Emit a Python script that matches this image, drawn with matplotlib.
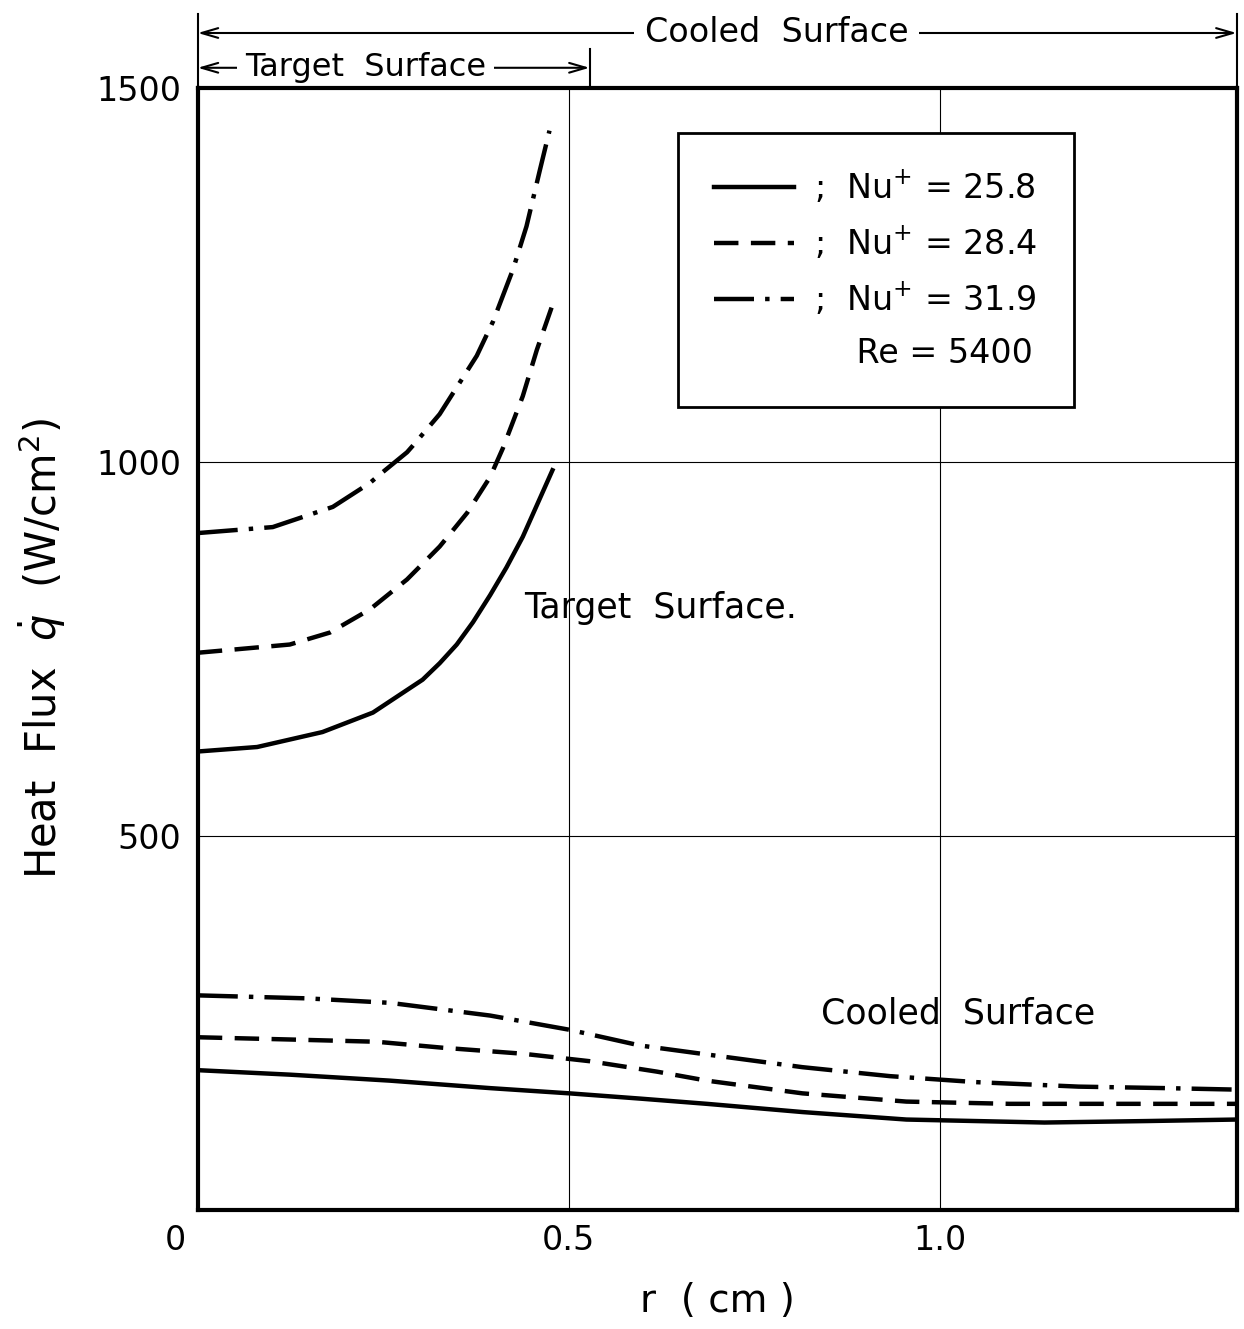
import numpy as np
import matplotlib.pyplot as plt
from matplotlib.lines import Line2D

# Target surface curves (r in cm, heat flux in W/cm2)
r_t_258 = [0.0, 0.08, 0.168, 0.236, 0.303, 0.326, 0.349, 0.371, 0.394,
           0.416, 0.438, 0.478]
q_t_258 = [613, 619, 639, 665, 709, 731, 756, 786, 822, 859, 900, 989]
r_t_284 = [0.0, 0.124, 0.178, 0.232, 0.282, 0.326, 0.363, 0.394, 0.411,
           0.438, 0.457, 0.477]
q_t_284 = [745, 756, 772, 803, 843, 887, 932, 980, 1018, 1088, 1150, 1207]
r_t_319 = [0.0, 0.101, 0.182, 0.232, 0.245, 0.282, 0.29, 0.326, 0.376,
           0.398, 0.425, 0.443, 0.461, 0.474]
q_t_319 = [905, 913, 940, 972, 983, 1013, 1022, 1064, 1142, 1188, 1258,
           1315, 1390, 1443]

# Cooled surface curves
r_c_258 = [0.0, 0.124, 0.259, 0.394, 0.501, 0.596, 0.686, 0.815, 0.955,
           1.141, 1.28, 1.4]
q_c_258 = [187, 181, 173, 163, 156, 149, 142, 131, 121, 117, 119, 121]
r_c_284 = [0.0, 0.124, 0.241, 0.33, 0.438, 0.528, 0.619, 0.686, 0.815,
           0.955, 1.094, 1.235, 1.4]
q_c_284 = [231, 228, 225, 217, 209, 199, 185, 173, 156, 145, 142, 142, 142]
r_c_319 = [0.0, 0.147, 0.259, 0.394, 0.501, 0.596, 0.686, 0.815, 0.933,
           1.049, 1.187, 1.305, 1.4]
q_c_319 = [287, 283, 277, 260, 241, 220, 208, 191, 179, 171, 165, 163, 161]

labels = [';  Nu$^{+}$ = 25.8', ';  Nu$^{+}$ = 28.4', ';  Nu$^{+}$ = 31.9']
styles = ['-', (0, (5.5, 2.8)), (0, (9, 2.5, 1, 2.5))]

plt.rcParams['font.family'] = 'DejaVu Sans'
fs = 24

fig = plt.figure(figsize=(12.44, 13.29), dpi=100)
ax = fig.add_axes([0.159, 0.0895, 0.835, 0.8443])

lw = 3.2
series = [(r_t_258, q_t_258, r_c_258, q_c_258),
          (r_t_284, q_t_284, r_c_284, q_c_284),
          (r_t_319, q_t_319, r_c_319, q_c_319)]
for (rt, qt, rc, qc), ls, lab in zip(series, styles, labels):
    ax.plot(rt, qt, color='black', lw=lw, linestyle=ls, label=lab,
            solid_joinstyle='round')
    ax.plot(rc, qc, color='black', lw=lw, linestyle=ls,
            solid_joinstyle='round')

ax.set_xlim(0, 1.4)
ax.set_ylim(0, 1500)
ax.set_xticks([0.5, 1.0])
ax.set_xticklabels(['0.5', '1.0'])
ax.set_yticks([500, 1000, 1500])
ax.tick_params(length=0, labelsize=fs)
ax.tick_params(axis='x', pad=10)
ax.tick_params(axis='y', pad=12)
ax.grid(True, color='black', lw=0.8)
for s in ax.spines.values():
    s.set_linewidth(3)
ax.text(-0.022, -0.027, '0', transform=ax.transAxes, fontsize=fs,
        ha='center', va='center')

ax.set_xlabel('r  ( cm )', fontsize=28, labelpad=18)
ax.set_ylabel(r'Heat  Flux  $\dot{q}$  (W/cm$^{2}$)', fontsize=30, labelpad=20)

ax.text(0.44, 805, 'Target  Surface.', fontsize=25, va='center')
ax.text(0.84, 263, 'Cooled  Surface', fontsize=25, va='center')

handles, labs = ax.get_legend_handles_labels()
handles.append(Line2D([], [], linestyle='none'))
labs.append('    Re = 5400')
leg = ax.legend(handles, labs, loc='upper left', bbox_to_anchor=(0.462, 0.96),
                fontsize=fs, fancybox=False, edgecolor='black',
                handlelength=2.4, labelspacing=0.58, borderpad=1.1,
                handletextpad=0.6, borderaxespad=0)
leg.get_frame().set_linewidth(2)
leg.get_frame().set_alpha(1)

# top brackets
tr = ax.get_xaxis_transform()
arrow = dict(arrowstyle='<->,head_length=1.2,head_width=0.35', lw=1.5,
             color='black', shrinkA=0, shrinkB=0)
ax.annotate('', xy=(0, 1.049), xytext=(1.4, 1.049), xycoords=tr,
            textcoords=tr, arrowprops=arrow, annotation_clip=False, zorder=1)
ax.annotate('', xy=(0, 1.018), xytext=(0.528, 1.018), xycoords=tr,
            textcoords=tr, arrowprops=arrow, annotation_clip=False, zorder=1)
ax.text(0.78, 1.049, 'Cooled  Surface', transform=tr, fontsize=fs,
        ha='center', va='center', zorder=2,
        bbox=dict(facecolor='white', edgecolor='none', pad=8))
ax.text(0.226, 1.018, 'Target  Surface', transform=tr, fontsize=23,
        ha='center', va='center', zorder=2,
        bbox=dict(facecolor='white', edgecolor='none', pad=6))
for xv, ytop in [(0, 1.066), (1.4, 1.066), (0.528, 1.035)]:
    ax.plot([xv, xv], [1.0, ytop], transform=tr, color='black', lw=1.5,
            clip_on=False)

fig.savefig('out.png', dpi=100)
